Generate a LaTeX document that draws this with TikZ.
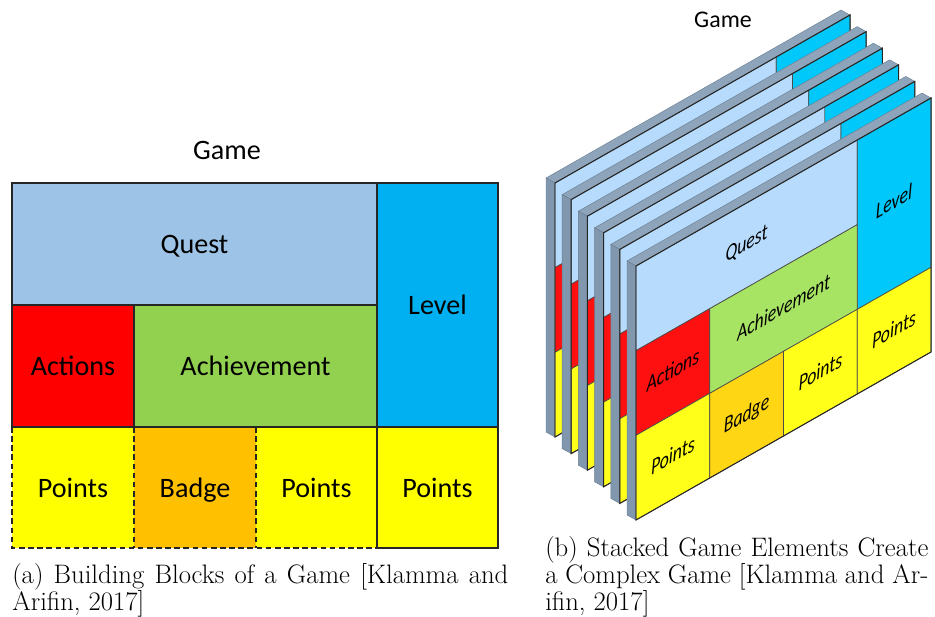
\documentclass[tikz,border=0pt]{standalone}
\usepackage{fontspec}
\newfontfamily\calibri{Carlito}
\usetikzlibrary{positioning}

\definecolor{questL}{RGB}{157,195,230}
\definecolor{levelL}{RGB}{0,176,240}
\definecolor{actionL}{RGB}{255,0,0}
\definecolor{achieveL}{RGB}{146,208,80}
\definecolor{pointsL}{RGB}{255,255,0}
\definecolor{badgeL}{RGB}{255,192,0}
\definecolor{questR}{RGB}{182,219,252}
\definecolor{levelR}{RGB}{0,200,250}
\definecolor{actionR}{RGB}{255,16,16}
\definecolor{achieveR}{RGB}{168,228,100}
\definecolor{pointsR}{RGB}{255,255,25}
\definecolor{badgeR}{RGB}{255,214,20}
\definecolor{slabT}{RGB}{142,164,186}
\definecolor{slabS}{RGB}{128,151,174}
\definecolor{slabE}{RGB}{105,125,145}

\tikzstyle{block} = [draw=black!85, line width=0.9pt]
\tikzstyle{dashblock} = [draw=black!85, line width=0.9pt, dash pattern=on 4pt off 2.5pt]
\tikzstyle{blocktext} = [font=\calibri\fontsize{20}{24}\selectfont, text depth=0pt]
\tikzstyle{slanttext} = [font=\calibri\itshape\fontsize{20}{24}\selectfont, text depth=0pt, cm={0.63,0.358,0,0.8,(0,0)}]
\tikzstyle{facecell} = [draw=black!70, line width=0.5pt]
\tikzstyle{faceedge} = [draw=black!85, line width=0.7pt]
\tikzstyle{slabtop} = [fill=slabT, draw=slabE, line width=0.3pt]
\tikzstyle{slabside} = [fill=slabS, draw=slabE, line width=0.3pt]
\tikzstyle{caption} = [anchor=north west, inner sep=0pt, align=justify, font=\fontsize{19}{19.2}\selectfont]

\newcommand{\facecell}[5]{\filldraw[facecell, fill=#5] (#1,#2) -- (#3,#2) -- (#3,#4) -- (#1,#4) -- cycle;}

\begin{document}
\begin{tikzpicture}[x=0.025cm, y=-0.025cm]

    \useasboundingbox (0,0) rectangle (935,617);

    % (a) building blocks
    \node (gameA) [blocktext] at (227,150) {Game};

    \fill[questL]   (12,183)  rectangle (377,305);
    \fill[levelL]   (377,183) rectangle (498,427);
    \fill[actionL]  (12,305)  rectangle (134,427);
    \fill[achieveL] (134,305) rectangle (377,427);
    \fill[pointsL]  (12,427)  rectangle (134,548);
    \fill[badgeL]   (134,427) rectangle (256,548);
    \fill[pointsL]  (256,427) rectangle (377,548);
    \fill[pointsL]  (377,427) rectangle (498,548);

    \draw[dashblock] (12,427) -- (12,548) -- (377,548);
    \draw[dashblock] (134,427) -- (134,548);
    \draw[dashblock] (256,427) -- (256,548);
    \draw[block] (12,427) -- (12,183) -- (498,183) -- (498,548) -- (377,548) -- (377,183);
    \draw[block] (12,305) -- (377,305);
    \draw[block] (12,427) -- (498,427);
    \draw[block] (134,305) -- (134,427);

    \node (questA)   [blocktext] at (194.5,244) {Quest};
    \node (levelA)   [blocktext] at (437.5,305) {Level};
    \node (actionA)  [blocktext] at (73,366)    {Actions};
    \node (achieveA) [blocktext] at (255.5,366) {Achievement};
    \node (pointsA)  [blocktext] at (73,488)    {Points};
    \node (badgeA)   [blocktext] at (195,488)   {Badge};
    \node (pointsB)  [blocktext] at (316.5,488) {Points};
    \node (pointsC)  [blocktext] at (437.5,488) {Points};

    \node (capA) [caption, text width=12.4cm] at (12,563)
        {(a) Building Blocks of a Game [Klamma and\linebreak Arifin, 2017]};

    % (b) stacked planes, back to front
    \node (gameB) [font=\calibri\fontsize{17}{20}\selectfont] at (723,20) {Game};

    \foreach \k in {5,4,3,2,1,0} {
        \begin{scope}[shift={(636-16.2*\k,266-16.6*\k)}]
            \filldraw[slabtop]  (0,0) -- (-9,-5) -- (286,-173) -- (295,-168) -- cycle;
            \filldraw[slabside] (0,0) -- (-9,-5) -- (-9,249) -- (0,254) -- cycle;
            \begin{scope}[x={(73.75,-42)}, y={(0,84.67)}]
                \facecell{0}{0}{3}{1}{questR}
                \facecell{3}{0}{4}{2}{levelR}
                \facecell{0}{1}{1}{2}{actionR}
                \facecell{1}{1}{3}{2}{achieveR}
                \facecell{0}{2}{1}{3}{pointsR}
                \facecell{1}{2}{2}{3}{badgeR}
                \facecell{2}{2}{3}{3}{pointsR}
                \facecell{3}{2}{4}{3}{pointsR}
                \draw[faceedge] (0,0) -- (4,0) -- (4,3) -- (0,3) -- cycle;
            \end{scope}
        \end{scope}
    }

    \node (questF)   [slanttext] at (746.6,243) {Quest};
    \node (levelF)   [slanttext] at (894,201)   {Level};
    \node (actionF)  [slanttext] at (672.9,370) {Actions};
    \node (achieveF) [slanttext] at (783.5,307) {Achievement};
    \node (pointsF)  [slanttext] at (672.9,455) {Points};
    \node (badgeF)   [slanttext] at (746.6,413) {Badge};
    \node (pointsG)  [slanttext] at (820.4,371) {Points};
    \node (pointsH)  [slanttext] at (894,329)   {Points};

    \node (capB) [caption, text width=9.575cm] at (545,536)
        {(b) Stacked Game Elements Create\linebreak a Complex Game [Klamma and Ar-\linebreak ifin, 2017]};

\end{tikzpicture}
\end{document}
